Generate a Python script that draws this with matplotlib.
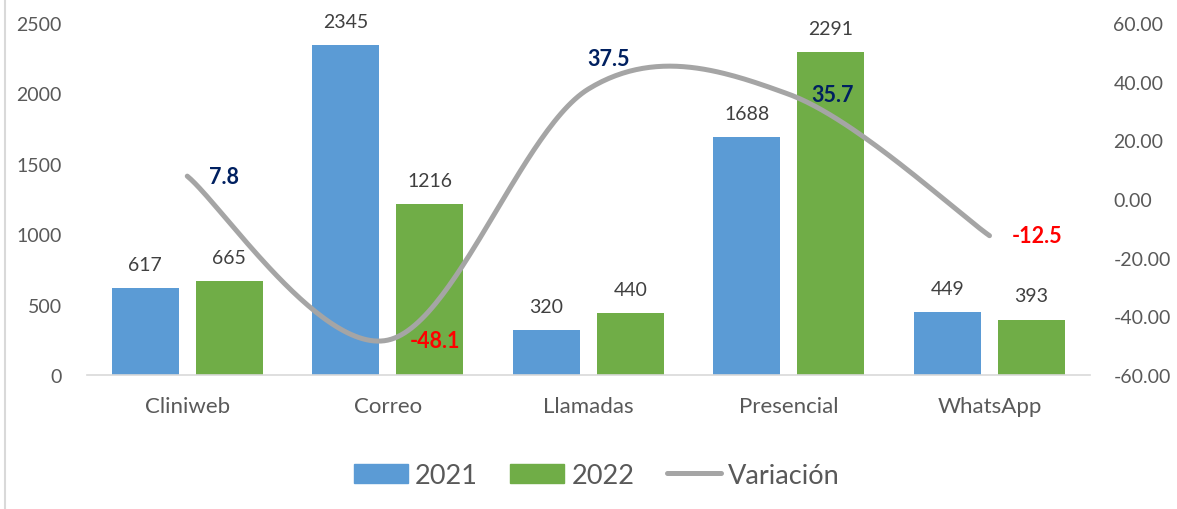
import matplotlib.pyplot as plt
import numpy as np
from matplotlib.patches import Patch
from matplotlib.lines import Line2D

plt.rcParams['font.family'] = ['Lato', 'DejaVu Sans']

canales = ['Cliniweb', 'Correo', 'Llamadas', 'Presencial', 'WhatsApp']
atenciones_2021 = [617, 2345, 320, 1688, 449]
atenciones_2022 = [665, 1216, 440, 2291, 393]
variacion = [7.8, -48.1, 37.5, 35.7, -12.5]

azul = '#5B9BD5'
verde = '#70AD47'
gris = '#A5A5A5'
texto = '#595959'


def suavizar(xs, ys, pasos=60):
    # Catmull-Rom para imitar la linea suavizada de Excel
    px = np.concatenate([[xs[0]], xs, [xs[-1]]])
    py = np.concatenate([[ys[0]], ys, [ys[-1]]])
    out_x, out_y = [], []
    for i in range(1, len(px) - 2):
        t = np.linspace(0, 1, pasos)
        h00 = 2 * t**3 - 3 * t**2 + 1
        h10 = t**3 - 2 * t**2 + t
        h01 = -2 * t**3 + 3 * t**2
        h11 = t**3 - t**2
        mx0 = (px[i + 1] - px[i - 1]) / 2
        mx1 = (px[i + 2] - px[i]) / 2
        my0 = (py[i + 1] - py[i - 1]) / 2
        my1 = (py[i + 2] - py[i]) / 2
        out_x.append(h00 * px[i] + h10 * mx0 + h01 * px[i + 1] + h11 * mx1)
        out_y.append(h00 * py[i] + h10 * my0 + h01 * py[i + 1] + h11 * my1)
    return np.concatenate(out_x), np.concatenate(out_y)


fig = plt.figure(figsize=(11.77, 5.10), dpi=100)
ax = fig.add_axes([0.0739, 0.2627, 0.852, 0.6902])
ax2 = ax.twinx()

x = np.arange(len(canales))
ancho = 0.334
sep = 0.085
b1 = ax.bar(x - (ancho + sep) / 2, atenciones_2021, ancho, color=azul, zorder=2)
b2 = ax.bar(x + (ancho + sep) / 2, atenciones_2022, ancho, color=verde, zorder=2)

for barras, vals in [(b1, atenciones_2021), (b2, atenciones_2022)]:
    for b, v in zip(barras, vals):
        ax.annotate(str(v), (b.get_x() + b.get_width() / 2, v), xytext=(0, 11),
                    textcoords='offset points', ha='center', va='bottom',
                    fontsize=14, color='#404040')

ax.set_xlim(-0.5, len(canales) - 0.5)
ax.set_ylim(0, 2500)
ax.set_yticks(range(0, 2501, 500))
ax.set_xticks(x)
ax.set_xticklabels(canales)
ax.tick_params(axis='both', length=0, colors=texto)
ax.tick_params(axis='x', pad=15, labelsize=16)
ax.tick_params(axis='y', pad=18, labelsize=14)
for s in ['top', 'right', 'left']:
    ax.spines[s].set_visible(False)
ax.spines['bottom'].set_color('#D9D9D9')
ax.spines['bottom'].set_linewidth(1.2)

# linea de variacion en el eje secundario
sx, sy = suavizar(x.astype(float), np.array(variacion))
ax2.plot(sx, sy, color=gris, lw=3.6, solid_capstyle='round', zorder=3)
ax2.set_ylim(-60, 60)
ax2.set_yticks(range(-60, 61, 20))
ax2.set_yticklabels([f'{v:.2f}' for v in range(-60, 61, 20)])
ax2.tick_params(axis='y', length=0, labelsize=14, colors=texto, pad=17)
for s in ax2.spines.values():
    s.set_visible(False)

desplaz = [(16, 0), (16, 0), (-1, 22), (16, 0), (16, 0)]
for xi, v, off in zip(x, variacion, desplaz):
    color = '#002060' if v > 0 else '#FF0000'
    ax2.annotate(f'{v:.1f}', (xi, v), xytext=off, textcoords='offset points',
                 ha='left', va='center', fontsize=15.5, fontweight='bold', color=color)

handles = [Patch(color=azul, label='2021'), Patch(color=verde, label='2022'),
           Line2D([], [], color=gris, lw=3.6, solid_capstyle='round', label='Variación')]
leg = fig.legend(handles=handles, loc='center', bbox_to_anchor=(0.507, 0.066), ncol=3,
                 frameon=False, fontsize=19.5, handlelength=2.0, handletextpad=0.25,
                 columnspacing=1.2)
for t in leg.get_texts():
    t.set_color(texto)

# borde izquierdo del grafico
fig.add_artist(Line2D([0.0045, 0.0045], [0, 1], color='#D9D9D9', lw=1.5,
                      transform=fig.transFigure))

fig.savefig('out.png', dpi=100)
